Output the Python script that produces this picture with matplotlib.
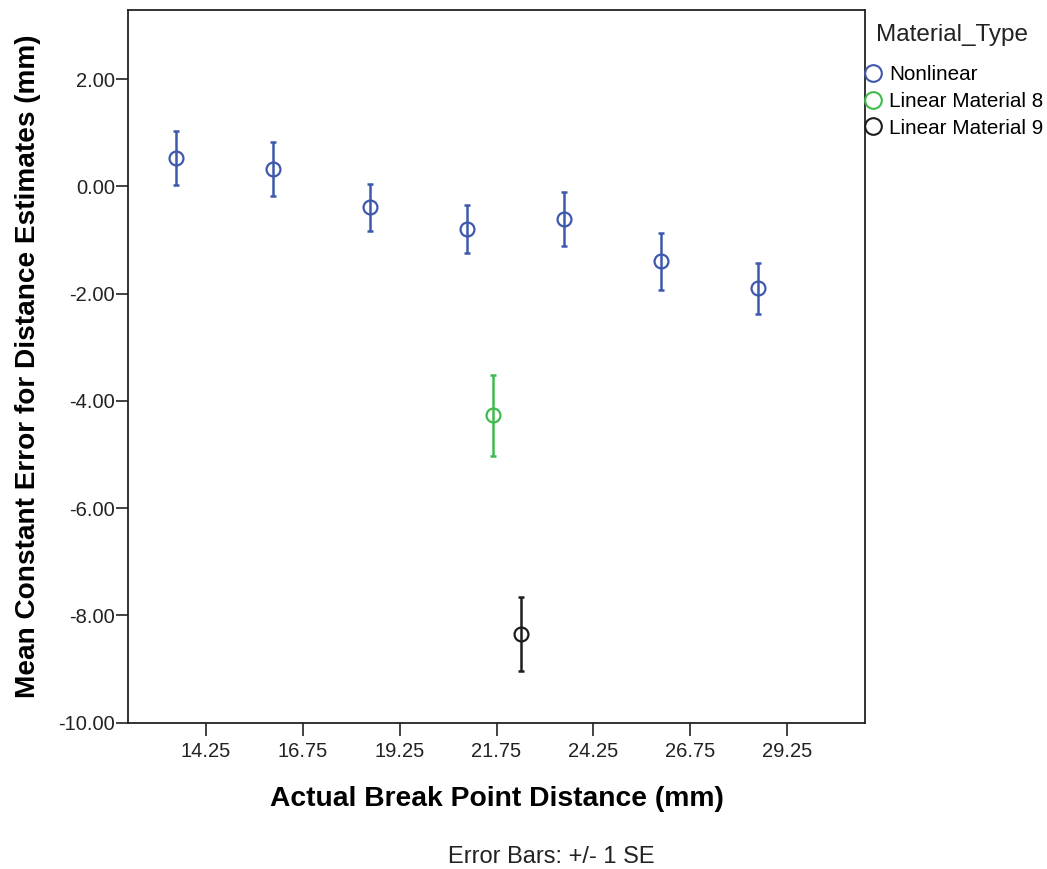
import matplotlib
matplotlib.use("Agg")
import matplotlib.pyplot as plt
from matplotlib.lines import Line2D
from matplotlib.ticker import FormatStrFormatter

plt.rcParams['font.family'] = ['Liberation Sans', 'DejaVu Sans']

# Group means of constant error with +/- 1 SE, by material type
material_types = ["Nonlinear", "Linear Material 8", "Linear Material 9"]
type_colors = ["#3e58ac", "#3fbb4d", "#1e1e1e"]

nonlinear_x = [13.5, 16.0, 18.5, 21.0, 23.5, 26.0, 28.5]
nonlinear_mean = [0.53, 0.32, -0.39, -0.80, -0.61, -1.40, -1.90]
nonlinear_se = [0.51, 0.50, 0.44, 0.45, 0.51, 0.53, 0.48]

linear8_x = [21.67]
linear8_mean = [-4.27]
linear8_se = [0.75]

linear9_x = [22.37]
linear9_mean = [-8.35]
linear9_se = [0.69]

x_ticks = [14.25, 16.75, 19.25, 21.75, 24.25, 26.75, 29.25]
y_ticks = [2.0, 0.0, -2.0, -4.0, -6.0, -8.0, -10.0]

groups = [
    (nonlinear_x, nonlinear_mean, nonlinear_se),
    (linear8_x, linear8_mean, linear8_se),
    (linear9_x, linear9_mean, linear9_se),
]

W, H = 1047, 869
fig = plt.figure(figsize=(W / 100, H / 100), dpi=100)
ax = fig.add_axes([128 / W, 1 - 722.5 / H, (865 - 128) / W, (722.5 - 10) / H])

for (xs, ms, ses), color in zip(groups, type_colors):
    ax.errorbar(xs, ms, yerr=ses, fmt="none", ecolor=color, elinewidth=1.8,
                capsize=2.3, capthick=1.8, zorder=2)
    ax.plot(xs, ms, linestyle="none", marker="o", markersize=10,
            markerfacecolor="none", markeredgecolor=color, markeredgewidth=1.6,
            zorder=3)

ax.set_xlim(12.25, 31.25)
ax.set_ylim(-10.0, 3.29)
ax.set_xticks(x_ticks)
ax.set_yticks(y_ticks)
ax.xaxis.set_major_formatter(FormatStrFormatter("%.2f"))
ax.yaxis.set_major_formatter(FormatStrFormatter("%.2f"))
ax.tick_params(axis="both", direction="out", length=9, width=1.2,
               labelsize=14.5, colors="#222222")
ax.tick_params(axis="x", pad=5)
ax.tick_params(axis="y", pad=0.5)
for side in ax.spines.values():
    side.set_linewidth(1.3)
    side.set_color("#222222")

ax.set_xlabel("Actual Break Point Distance (mm)", fontsize=20.3,
              fontweight="bold", labelpad=18)
ax.set_ylabel("Mean Constant Error for Distance Estimates (mm)", fontsize=20.2,
              fontweight="bold", labelpad=12)

# Legend placed in the right margin, title drawn as its own text
fig.text(876 / W, 1 - 35 / H, "Material_Type", ha="left", va="center",
         fontsize=17.5, color="#222222")
handles = [
    Line2D([], [], linestyle="none", marker="o", markersize=12,
           markerfacecolor="none", markeredgecolor=c, markeredgewidth=1.5)
    for c in type_colors
]
fig.legend(handles, material_types,
           loc="upper left", bbox_to_anchor=(864 / W, 1 - 65 / H),
           frameon=False, fontsize=14.9,
           handlelength=0.9, handletextpad=0.31, labelspacing=0.38,
           borderpad=0, borderaxespad=0)

fig.text(551 / W, 1 - 857 / H, "Error Bars: +/- 1 SE", ha="center",
         va="center", fontsize=17, color="#222222")

fig.savefig("out.png", dpi=100, facecolor="white")
